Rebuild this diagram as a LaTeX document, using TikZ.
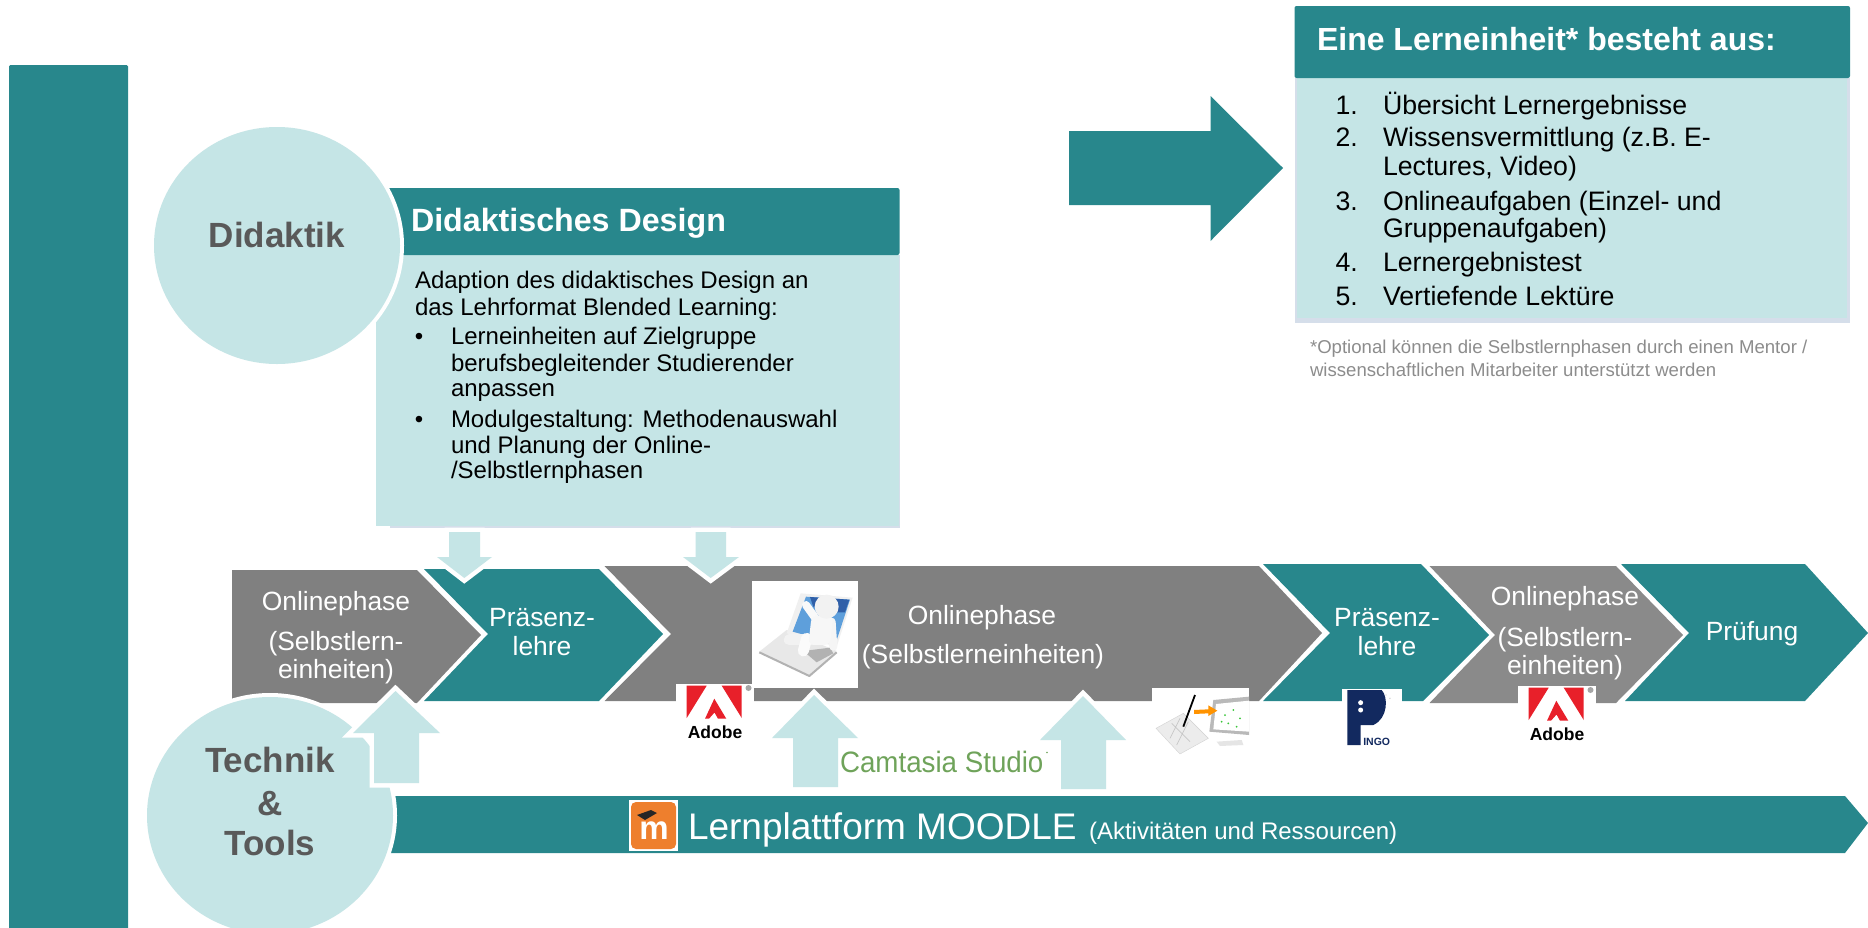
\documentclass[tikz,border=0pt]{standalone}
\usepackage{fontspec}
\setmainfont{Liberation Sans}
\usetikzlibrary{shapes.geometric}
\definecolor{teal0}{HTML}{28878C}
\definecolor{light0}{HTML}{C5E5E6}
\definecolor{lav0}{HTML}{D5DEEA}
\definecolor{grayA}{HTML}{808080}
\definecolor{grayB}{HTML}{8A8A8A}
\definecolor{dark0}{HTML}{595959}
\definecolor{foot0}{HTML}{8C8C8C}
\definecolor{adobered}{HTML}{E8202A}
\definecolor{navy0}{HTML}{12295F}
\definecolor{camgreen}{HTML}{6FA35A}
\definecolor{moodle0}{HTML}{EE7F2D}
\definecolor{screen0}{HTML}{5E9FDB}
\definecolor{screen1}{HTML}{2F5FA8}
\newcommand{\fs}[1]{\fontsize{#1bp}{#1bp}\selectfont}
\tikzset{
  every node/.style={inner sep=0pt,outer sep=0pt},
  tealshape/.style={fill=teal0},
  chevA/.style={fill=grayA},
  chevB/.style={fill=grayB},
  blockarrow/.style={fill=light0,preaction={draw=white,line width=9bp,line join=miter}},
  bigcircle/.style={ellipse,fill=light0,minimum width=246bp,minimum height=237bp,preaction={draw=white,line width=8bp}},
  circletxt/.style={anchor=base,font=\fs{35}\bfseries,text=dark0},
  headtxt/.style={anchor=base west,font=\fs{32.2}\bfseries,text=white},
  bodytxt/.style={anchor=base west,font=\fs{24},text=black},
  listtxt/.style={anchor=base west,font=\fs{26.7},text=black},
  chevtxt/.style={anchor=base,font=\fs{26.4},text=white},
  foottxt/.style={anchor=base west,font=\fs{18.6},text=foot0},
  adobelogo/.pic={
    \fill[white] (0,0) rectangle (78,56);
    \fill[adobered] (10.7,1.7) -- (30.7,1.7) -- (10.7,34) -- cycle;
    \fill[adobered] (45.7,1.7) -- (65.7,1.7) -- (65.7,34) -- cycle;
    \fill[adobered] (38.3,14.7) -- (50.3,34.7) -- (42,34.7) -- (38.5,28.5) -- (33,34.7) -- (29,34.7) -- cycle;
    \fill[gray!70] (72.5,4) circle (3);
    \node[anchor=base,font=\fs{17.5}\bfseries,text=black] (-word) at (39,54) {Adobe};
  }
}
\begin{document}
\begin{tikzpicture}[x=1bp,y=-1bp]
\useasboundingbox (0,0) rectangle (1868,928);
\clip (0,0) rectangle (1868,928);

% left bar
\fill[tealshape,rounded corners=1.5] (9,65) rectangle (128,940);

% Didaktisches Design box
\fill[lav0] (390,255) rectangle (899.5,527.8);
\fill[light0] (376,255) rectangle (898.5,525.8);
\fill[tealshape,rounded corners=2] (380,188) rectangle (899.5,255);
\node[bigcircle] (didcircle) at (277,245.5) {};
\node[circletxt] (didtxt) at (277,247.5) {Didaktik};
\node[headtxt] (didhead) at (411,231.5) {Didaktisches Design};
\node[bodytxt] (b1) at (415,288.5) {Adaption des didaktisches Design an};
\node[bodytxt] (b2) at (415,315) {das Lehrformat Blended Learning:};
\node[bodytxt,anchor=base] (bu1) at (419,344.5) {•};
\node[bodytxt] (b3) at (451,344.5) {Lerneinheiten auf Zielgruppe};
\node[bodytxt] (b4) at (451,371) {berufsbegleitender Studierender};
\node[bodytxt] (b5) at (451,396.5) {anpassen};
\node[bodytxt,anchor=base] (bu2) at (419,427) {•};
\node[bodytxt] (b6) at (451,427) {Modulgestaltung: Methodenauswahl};
\node[bodytxt] (b7) at (451,453) {und Planung der Online-};
\node[bodytxt] (b8) at (451,478.5) {/Selbstlernphasen};

% big arrow
\fill[tealshape] (1069,131) -- (1210.5,131) -- (1210.5,96) -- (1283,168) -- (1210.5,241) -- (1210.5,205) -- (1069,205) -- cycle;

% Lerneinheit box
\fill[lav0] (1295,78) rectangle (1850,323);
\fill[light0] (1297,78) rectangle (1846.5,318);
\fill[tealshape,rounded corners=2] (1294.5,6) rectangle (1850,78);
\node[headtxt,font=\fs{32}\bfseries] (lehead) at (1317,50) {Eine Lerneinheit* besteht aus:};
\node[listtxt] (n1) at (1335.5,114) {1.};
\node[listtxt] (l1) at (1383,114) {Übersicht Lernergebnisse};
\node[listtxt] (n2) at (1335.5,146.5) {2.};
\node[listtxt] (l2) at (1383,146.5) {Wissensvermittlung (z.B. E-};
\node[listtxt] (l2b) at (1383,175.5) {Lectures, Video)};
\node[listtxt] (n3) at (1335.5,210) {3.};
\node[listtxt] (l3) at (1383,210) {Onlineaufgaben (Einzel- und};
\node[listtxt] (l3b) at (1383,237.5) {Gruppenaufgaben)};
\node[listtxt] (n4) at (1335.5,271.5) {4.};
\node[listtxt] (l4) at (1383,271.5) {Lernergebnistest};
\node[listtxt] (n5) at (1335.5,305.5) {5.};
\node[listtxt] (l5) at (1383,305.5) {Vertiefende Lektüre};
\node[foottxt] (f1) at (1310,353) {*Optional können die Selbstlernphasen durch einen Mentor /};
\node[foottxt] (f2) at (1310,376) {wissenschaftlichen Mitarbeiter unterstützt werden};

% chevrons
\fill[chevA] (232,570) -- (417,570) -- (481,635) -- (417,703) -- (232,703) -- cycle;
\fill[tealshape] (424,569) -- (599,569) -- (663,634) -- (599,701) -- (424,701) -- (488,634) -- cycle;
\fill[chevA] (604.5,566) -- (1259,566) -- (1322,633) -- (1259,701) -- (604.5,701) -- (671,634) -- cycle;
\fill[tealshape] (1263,564) -- (1421,564) -- (1489,635) -- (1423,701) -- (1263,701) -- (1330,633) -- cycle;
\fill[chevB] (1429.5,566) -- (1616,566) -- (1683,635) -- (1616,703) -- (1429.5,703) -- (1495,635) -- cycle;
\fill[tealshape] (1621,564) -- (1805,564) -- (1868,633) -- (1805,701) -- (1625,701) -- (1689,633) -- cycle;

\node[chevtxt] (c1a) at (336,610) {Onlinephase};
\node[chevtxt] (c1b) at (336,650.5) {(Selbstlern-};
\node[chevtxt] (c1c) at (336,678) {einheiten)};
\node[chevtxt] (c2a) at (542,626.5) {Präsenz-};
\node[chevtxt] (c2b) at (542,655) {lehre};
\node[chevtxt] (c3a) at (982,624) {Onlinephase};
\node[chevtxt] (c3b) at (983,663) {(Selbstlerneinheiten)};
\node[chevtxt] (c4a) at (1387,626.5) {Präsenz-};
\node[chevtxt] (c4b) at (1387,655) {lehre};
\node[chevtxt] (c5a) at (1565,605.5) {Onlinephase};
\node[chevtxt] (c5b) at (1565,646.5) {(Selbstlern-};
\node[chevtxt] (c5c) at (1565,674) {einheiten)};
\node[chevtxt] (c6) at (1752,640) {Prüfung};

% down arrows
\fill[blockarrow] (449,532) -- (480,532) -- (480,557) -- (492,557) -- (464.3,578) -- (437,557) -- (449,557) -- cycle;
\fill[blockarrow] (695.7,532) -- (726,532) -- (726,557) -- (739,557) -- (710.7,578) -- (683,557) -- (695.7,557) -- cycle;

% moodle bar
\fill[tealshape] (380,796) -- (1845,796) -- (1868,823) -- (1845,853) -- (380,853) -- cycle;

% Technik circle
\node[bigcircle] (techcircle) at (270,815.5) {};
\node[circletxt] (t1) at (270,772.5) {Technik};
\node[circletxt] (t2) at (270,815) {\&};
\node[circletxt] (t3) at (270,855.5) {Tools};

% up arrows
\fill[blockarrow] (374,783) -- (419,783) -- (419,733) -- (440,733) -- (395.5,691) -- (353,733) -- (374,733) -- cycle;
\fill[blockarrow] (793,787) -- (838,787) -- (838,738) -- (858,738) -- (814,695) -- (772,738) -- (793,738) -- cycle;
\fill[blockarrow] (1061,789) -- (1106,789) -- (1106,740) -- (1126,740) -- (1083,696) -- (1040,740) -- (1061,740) -- cycle;

% laptop picture
\begin{scope}[shift={(670,575)},x=0.3333bp,y=-0.3333bp]
  \fill[white] (246,18) rectangle (563,338);
  \fill[gray!18] (268,230) -- (350,165) -- (500,228) -- (420,303) -- cycle;
  \draw[gray!60,line width=2bp,line join=round] (268,232) -- (418,303) -- (500,232);
  \fill[gray!60] (400,228) -- (480,218) -- (490,235) -- (440,262) -- cycle;
  \fill[gray!12] (392,55) -- (548,68) -- (500,215) -- (350,175) -- cycle;
  \fill[screen0] (408,65) -- (540,74) -- (497,205) -- (368,170) -- cycle;
  \fill[screen1] (420,66) -- (538,74) -- (525,112) -- (490,112) -- (430,95) -- cycle;
  \draw[gray!5,line width=8bp,line cap=round] (440,135) -- (408,90);
  \draw[gray!8,line width=8bp,line cap=round] (485,140) -- (490,215);
  \draw[gray!10,line width=11bp,line cap=round] (425,195) -- (358,195);
  \draw[gray!3,line width=11bp,line cap=round] (410,190) -- (400,228);
  \fill[gray!6,rounded corners=6] (425,122) -- (490,122) -- (480,210) -- (415,210) -- cycle;
  \fill[gray!10] (470,95) circle (36);
\end{scope}

% Adobe logos
\pic (ad1) at (676,684) {adobelogo};
\pic (ad2) at (1518,686) {adobelogo};

% Camtasia
\node[anchor=base west,font=\fs{29.5},text=camgreen,xscale=0.94] (cam) at (840,772.5) {Camtasia Studio};
\fill[camgreen] (1047,752.5) circle (0.8);

% tablet + screen picture
\begin{scope}[shift={(1140,680)},x=0.3333bp,y=-0.3333bp]
  \fill[white] (36,25) rectangle (327,225);
  \fill[gray!15,draw=gray!35] (48,145) -- (130,100) -- (205,175) -- (120,222) -- cycle;
  \draw[gray!45,line width=0.7bp] (95,130) -- (150,185) (120,115) -- (90,175) (145,125) -- (110,195);
  \fill[gray!20] (230,185) -- (305,180) -- (310,195) -- (240,198) -- cycle;
  \fill[gray!55] (208,155) -- (220,60) -- (327,50) -- (327,165) -- cycle;
  \fill[white] (220,148) -- (228,72) -- (327,62) -- (327,155) -- cycle;
  \foreach \px/\py in {255/105,280/90,300/115,265/130,290/140,245/125}
    \fill[green!55!gray] (\px,\py) circle (3);
  \draw[black,line width=1.8bp] (165,45) -- (130,140);
  \fill[orange!85!yellow] (162,90) -- (205,88) -- (205,76) -- (232,92) -- (205,108) -- (205,100) -- (162,102) -- cycle;
\end{scope}

% Pingo picture
\begin{scope}[shift={(1140,680)},x=0.3333bp,y=-0.3333bp]
  \fill[white] (605,28) rectangle (785,200);
  \fill[navy0] (622,30) -- (725,30) .. controls (745,50) and (745,115) .. (700,135) -- (662,135) -- (662,195) -- (622,195) -- cycle;
  \fill[white] (662,68) circle (7.5);
  \fill[white] (662,90) circle (7.5);
  \fill[gray!50] (738,45) circle (2);
  \fill[gray!50] (750,55) circle (2);
  \node[anchor=base west,font=\fs{10.5}\bfseries,text=navy0] (pingo) at (670,196) {INGO};
\end{scope}

% Moodle icon and label
\fill[white] (629,800) rectangle (678,851);
\fill[moodle0,rounded corners=5] (631,802) rectangle (676,849);
\node[anchor=base,font=\fs{33}\bfseries,text=white] (mm) at (654,839.5) {m};
\fill[black!85] (637,815) -- (651,810) -- (657,813) -- (645,820) -- cycle;
\node[anchor=base west,font=\fs{37},text=white] (lp) at (688,839) {Lernplattform MOODLE};
\node[anchor=base west,font=\fs{24},text=white] (lpb) at (1089,839) {(Aktivitäten und Ressourcen)};
\end{tikzpicture}
\end{document}
